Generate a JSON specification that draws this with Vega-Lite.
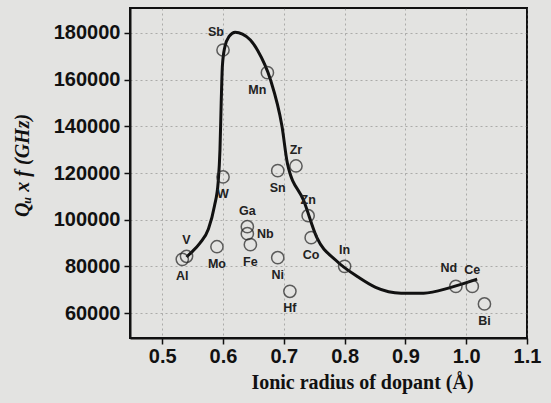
{
  "$schema": "https://vega.github.io/schema/vega-lite/v6.json",
  "width": 397,
  "height": 330,
  "autosize": {"type": "none"},
  "padding": {"left": 130, "top": 8, "right": 24, "bottom": 65},
  "background": "#e3e3e1",
  "config": {
    "view": {"stroke": "#111", "strokeWidth": 2},
    "axis": {
      "grid": true,
      "gridColor": "#666",
      "gridDash": [2, 3],
      "gridOpacity": 0.45,
      "gridWidth": 1,
      "domainColor": "#111",
      "domainWidth": 2,
      "tickColor": "#111",
      "tickWidth": 1.5,
      "tickSize": 6,
      "labelColor": "#111",
      "labelFont": "Liberation Sans",
      "labelFontWeight": "bold",
      "labelFontSize": 20,
      "titleColor": "#111",
      "titleFont": "Liberation Serif",
      "titleFontWeight": "bold",
      "titleFontSize": 20
    }
  },
  "datasets": {
    "points": [
      {"dopant": "Sb", "radius": 0.6, "qf": 172700, "side": "aboveleft"},
      {"dopant": "Mn", "radius": 0.673, "qf": 163000, "side": "belowleft"},
      {"dopant": "W", "radius": 0.6, "qf": 118300, "side": "below"},
      {"dopant": "Zr", "radius": 0.72, "qf": 123000, "side": "above"},
      {"dopant": "Sn", "radius": 0.69, "qf": 121000, "side": "below"},
      {"dopant": "Zn", "radius": 0.74, "qf": 101700, "side": "above"},
      {"dopant": "Co", "radius": 0.745, "qf": 92300, "side": "below"},
      {"dopant": "Ga", "radius": 0.64, "qf": 97000, "side": "above"},
      {"dopant": "Nb", "radius": 0.64, "qf": 94000, "side": "right"},
      {"dopant": "Fe", "radius": 0.645, "qf": 89300, "side": "below"},
      {"dopant": "Mo", "radius": 0.59, "qf": 88400, "side": "below"},
      {"dopant": "Ni", "radius": 0.69, "qf": 83700, "side": "below"},
      {"dopant": "Hf", "radius": 0.71, "qf": 69300, "side": "below"},
      {"dopant": "In", "radius": 0.8, "qf": 80000, "side": "above"},
      {"dopant": "V", "radius": 0.54, "qf": 84300, "side": "above"},
      {"dopant": "Al", "radius": 0.533, "qf": 83000, "side": "below"},
      {"dopant": "Nd", "radius": 0.983, "qf": 71400, "side": "aboveleft"},
      {"dopant": "Ce", "radius": 1.01, "qf": 71400, "side": "above"},
      {"dopant": "Bi", "radius": 1.03, "qf": 63900, "side": "below"}
    ],
    "fit": [
      {"radius": 0.54, "qf": 84000},
      {"radius": 0.548, "qf": 86000},
      {"radius": 0.562, "qf": 90000},
      {"radius": 0.576, "qf": 96000},
      {"radius": 0.586, "qf": 106000},
      {"radius": 0.592, "qf": 116000},
      {"radius": 0.595, "qf": 130000},
      {"radius": 0.597, "qf": 150000},
      {"radius": 0.599, "qf": 166000},
      {"radius": 0.603, "qf": 174000},
      {"radius": 0.61, "qf": 178500},
      {"radius": 0.62, "qf": 180300},
      {"radius": 0.632, "qf": 179500},
      {"radius": 0.645, "qf": 177000},
      {"radius": 0.657, "qf": 172500},
      {"radius": 0.678, "qf": 160000},
      {"radius": 0.697, "qf": 140000},
      {"radius": 0.706, "qf": 124000},
      {"radius": 0.733, "qf": 108000},
      {"radius": 0.754, "qf": 92500},
      {"radius": 0.786, "qf": 82500},
      {"radius": 0.823, "qf": 75300},
      {"radius": 0.851, "qf": 71000},
      {"radius": 0.893, "qf": 68500},
      {"radius": 0.93, "qf": 68500},
      {"radius": 0.975, "qf": 71000},
      {"radius": 1.018, "qf": 74500}
    ]
  },
  "encoding": {
    "x": {
      "field": "radius",
      "type": "quantitative",
      "scale": {"domain": [0.447, 1.1], "nice": false, "zero": false},
      "axis": {
        "values": [0.5, 0.6, 0.7, 0.8, 0.9, 1.0, 1.1],
        "format": ".1f",
        "labelPadding": 2,
        "labelFlush": false,
        "title": "Ionic radius of dopant (Å)",
        "titleX": 232,
        "titleY": 50,
        "titleBaseline": "alphabetic",
        "titleAlign": "center"
      }
    },
    "y": {
      "field": "qf",
      "type": "quantitative",
      "scale": {"domain": [49300, 190700], "nice": false, "zero": false},
      "axis": {
        "values": [60000, 80000, 100000, 120000, 140000, 160000, 180000],
        "format": "d",
        "labelPadding": 4,
        "labelFlush": false,
        "title": "Qᵤ x f (GHz)",
        "titleFontStyle": "italic",
        "titleAngle": -90,
        "titleX": -108,
        "titleY": 157,
        "titleAlign": "center",
        "titleBaseline": "middle"
      }
    }
  },
  "layer": [
    {
      "data": {"name": "fit"},
      "mark": {"type": "line", "interpolate": "monotone", "color": "#111", "strokeWidth": 3}
    },
    {
      "data": {"name": "points"},
      "mark": {"type": "point", "shape": "circle", "size": 150, "filled": false, "stroke": "#222", "strokeWidth": 1.5}
    },
    {
      "data": {"name": "points"},
      "transform": [{"filter": "datum.side == 'above'"}],
      "mark": {"type": "text", "dy": -16, "font": "Liberation Sans", "fontWeight": "bold", "fontSize": 12.5, "color": "#222", "baseline": "middle"},
      "encoding": {"text": {"field": "dopant"}}
    },
    {
      "data": {"name": "points"},
      "transform": [{"filter": "datum.side == 'below'"}],
      "mark": {"type": "text", "dy": 17, "font": "Liberation Sans", "fontWeight": "bold", "fontSize": 12.5, "color": "#222", "baseline": "middle"},
      "encoding": {"text": {"field": "dopant"}}
    },
    {
      "data": {"name": "points"},
      "transform": [{"filter": "datum.side == 'right'"}],
      "mark": {"type": "text", "dx": 18, "font": "Liberation Sans", "fontWeight": "bold", "fontSize": 12.5, "color": "#222", "baseline": "middle"},
      "encoding": {"text": {"field": "dopant"}}
    },
    {
      "data": {"name": "points"},
      "transform": [{"filter": "datum.side == 'aboveleft'"}],
      "mark": {"type": "text", "dx": -7, "dy": -18, "font": "Liberation Sans", "fontWeight": "bold", "fontSize": 12.5, "color": "#222", "baseline": "middle"},
      "encoding": {"text": {"field": "dopant"}}
    },
    {
      "data": {"name": "points"},
      "transform": [{"filter": "datum.side == 'belowleft'"}],
      "mark": {"type": "text", "dx": -10, "dy": 17, "font": "Liberation Sans", "fontWeight": "bold", "fontSize": 12.5, "color": "#222", "baseline": "middle"},
      "encoding": {"text": {"field": "dopant"}}
    }
  ]
}
